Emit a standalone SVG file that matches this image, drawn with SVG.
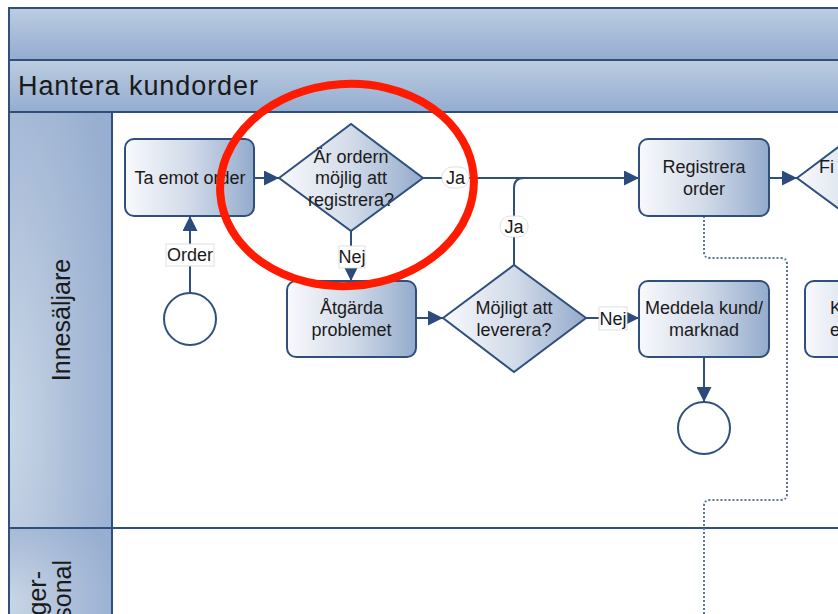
<svg xmlns="http://www.w3.org/2000/svg" width="838" height="614" viewBox="0 0 838 614">
  <style>
    .frame { stroke: #2f4f7d; stroke-width: 2; }
    .node { fill: url(#nodeFill); stroke: #2f4f7d; stroke-width: 2; }
    .event { fill: #ffffff; stroke: #2f4f7d; stroke-width: 2; }
    .flow { fill: none; stroke: #2f4f7d; stroke-width: 2; marker-end: url(#arrow); }
    .link { fill: none; stroke: #2f4f7d; stroke-width: 2; }
    .assoc { fill: none; stroke: #5a76a0; stroke-width: 2; stroke-dasharray: 2 2; }
    .txt { font-family: "Liberation Sans", Arial, sans-serif; font-size: 18px; fill: #1a1a1a; text-anchor: middle; }
    .tag { fill: #ffffff; stroke: #d8d8d8; stroke-width: 0.8; }
    .lane { font-family: "Liberation Sans", Arial, sans-serif; font-size: 25px; fill: #1a1a1a; text-anchor: middle; }
    .lane-end { text-anchor: end; }
  </style>
  <defs>
    <linearGradient id="nodeFill" x1="0" y1="0" x2="1" y2="0">
      <stop offset="0" stop-color="#f8f9fc"/>
      <stop offset="0.5" stop-color="#d2dbe9"/>
      <stop offset="1" stop-color="#94abcc"/>
    </linearGradient>
    <linearGradient id="bandFill" x1="0" y1="0" x2="0" y2="1">
      <stop offset="0" stop-color="#bccde1"/>
      <stop offset="1" stop-color="#94acd0"/>
    </linearGradient>
    <radialGradient id="laneFill" cx="0" cy="0.75" r="1.1">
      <stop offset="0" stop-color="#c9d6e6"/>
      <stop offset="0.6" stop-color="#aabdd8"/>
      <stop offset="1" stop-color="#98afd1"/>
    </radialGradient>
    <marker id="arrow" viewBox="0 0 16 16" refX="16" refY="8" markerWidth="16" markerHeight="15" markerUnits="userSpaceOnUse" orient="auto">
      <path d="M0,0 L16,8 L0,16 z" fill="#2b4b7b"/>
    </marker>
  </defs>

  <rect width="838" height="614" fill="#ffffff"/>

  <!-- pool frame and header bands -->
  <g id="pool">
    <rect class="frame" x="9" y="8" width="840" height="52" fill="url(#bandFill)"/>
    <rect class="frame" x="9" y="60" width="840" height="52" fill="url(#bandFill)"/>
    <text x="18" y="95" font-family="Liberation Sans, Arial, sans-serif" font-size="27" fill="#1a1a1a" textLength="240" lengthAdjust="spacing">Hantera kundorder</text>
    <rect class="frame" x="112" y="112" width="740" height="416" fill="#ffffff"/>
    <rect class="frame" x="112" y="528" width="740" height="100" fill="#ffffff"/>
    <rect class="frame" x="9" y="112" width="103" height="416" fill="url(#laneFill)"/>
    <rect class="frame" x="9" y="528" width="103" height="100" fill="url(#laneFill)"/>
    <text class="lane" transform="translate(70 320) rotate(-90)">Innesäljare</text>
    <text class="lane lane-end" transform="translate(46 571) rotate(-90)">ger-</text>
    <text class="lane lane-end" transform="translate(71 560) rotate(-90)">sonal</text>
  </g>

  <!-- connectors -->
  <g id="connectors">
    <path class="flow" d="M254,178 H279"/>
    <path class="flow" d="M190,292 V216"/>
    <path class="flow" d="M351,231 V281"/>
    <path class="flow" d="M423,178 H639"/>
    <path class="link" d="M514,265 V188 Q514,178 524,178"/>
    <path class="flow" d="M416,318 H443"/>
    <path class="flow" d="M586,318 H639"/>
    <path class="flow" d="M704,357 V402"/>
    <path class="flow" d="M769,178 H797"/>
    <path class="assoc" d="M704,216 V252 Q704,258 710,258 H781 Q787,258 787,264 V494 Q787,500 781,500 H710 Q704,500 704,506 V614"/>

    <rect class="tag" x="166" y="244" width="48" height="22"/>
    <text class="txt" x="190" y="261">Order</text>
    <rect class="tag" x="339" y="246" width="26" height="22"/>
    <text class="txt" x="352" y="263">Nej</text>
    <rect class="tag" x="442" y="167" width="27" height="21" rx="10"/>
    <text class="txt" x="455.5" y="184">Ja</text>
    <rect class="tag" x="500" y="216" width="28" height="21" rx="10"/>
    <text class="txt" x="514" y="233">Ja</text>
    <rect class="tag" x="599" y="307" width="28" height="23"/>
    <text class="txt" x="613" y="325">Nej</text>
  </g>

  <!-- nodes -->
  <g id="start">
    <circle class="event" cx="190" cy="319" r="26"/>
  </g>
  <g id="ta-emot-order">
    <rect class="node" x="125" y="139" width="129" height="77" rx="9"/>
    <text class="txt" x="190" y="184">Ta emot order</text>
  </g>
  <g id="mojlig-att-registrera">
    <polygon class="node" points="279,178 351,124 423,178 351,231"/>
    <text class="txt" x="351" y="163">Är ordern</text>
    <text class="txt" x="351" y="184">möjlig att</text>
    <text class="txt" x="351" y="206">registrera?</text>
  </g>
  <g id="atgarda-problemet">
    <rect class="node" x="287" y="281" width="129" height="76" rx="9"/>
    <text class="txt" x="351.5" y="314">Åtgärda</text>
    <text class="txt" x="351.5" y="336">problemet</text>
  </g>
  <g id="mojligt-att-leverera">
    <polygon class="node" points="443,318 514,265 586,318 514,372"/>
    <text class="txt" x="514" y="314">Möjligt att</text>
    <text class="txt" x="514" y="336">leverera?</text>
  </g>
  <g id="registrera-order">
    <rect class="node" x="639" y="139" width="130" height="77" rx="9"/>
    <text class="txt" x="704" y="173">Registrera</text>
    <text class="txt" x="704" y="195">order</text>
  </g>
  <g id="meddela-kund">
    <rect class="node" x="639" y="281" width="130" height="76" rx="9"/>
    <text class="txt" x="704" y="314">Meddela kund/</text>
    <text class="txt" x="704" y="336">marknad</text>
  </g>
  <g id="end">
    <circle class="event" cx="704" cy="428" r="26"/>
  </g>
  <g id="next-gateway">
    <polygon class="node" points="797,178 869,124 941,178 869,231"/>
    <text class="txt" x="819" y="173" style="text-anchor:start">Fi</text>
  </g>
  <g id="next-task">
    <rect class="node" x="805" y="281" width="130" height="76" rx="9"/>
    <text class="txt" x="830" y="314" style="text-anchor:start">K</text>
    <text class="txt" x="830" y="336" style="text-anchor:start">e</text>
  </g>

  <!-- highlight ring -->
  <ellipse cx="347" cy="185" rx="127" ry="101" transform="rotate(-4 347 185)" fill="none" stroke="#ff1a00" stroke-width="8"/>
</svg>
